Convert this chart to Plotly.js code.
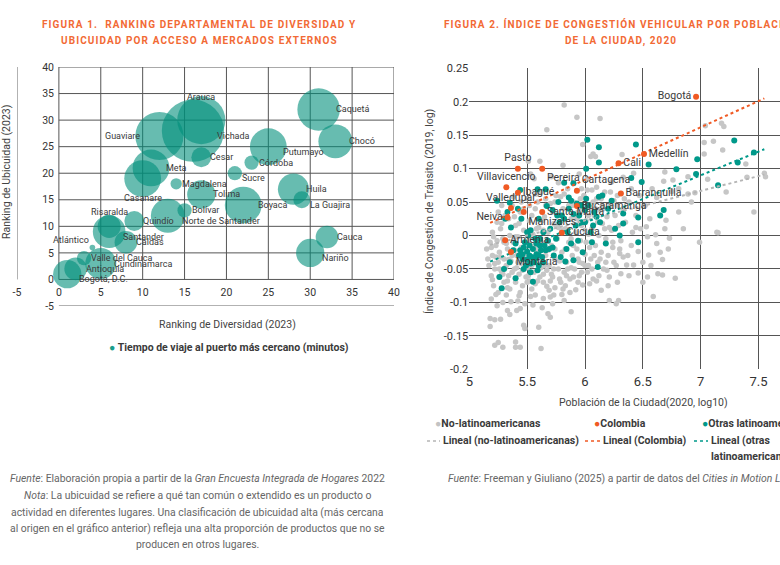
<!DOCTYPE html>
<html><head><meta charset="utf-8">
<script src="https://cdn.plot.ly/plotly-3.0.1.min.js"></script>
<style>
html,body{margin:0;padding:0;overflow:hidden;background:#fff;width:780px;height:565px;}
#chart{width:900px;height:565px;}
text.annotation-text[data-unformatted*="FIGURA"],
text.annotation-text[data-unformatted*="UBICUIDAD POR"],
text.annotation-text[data-unformatted*="DE LA CIUDAD"]{letter-spacing:1.1px;}
</style></head><body><div id="chart"></div>
<script>
// ---------- Figure 1 data ----------
const departments = ['Bogotá, D.C.','Antioquia','Valle del Cauca','Atlántico','Cundinamarca','Risaralda','Santander','Caldas','Quindío','Casanare','Meta','Guaviare','Norte de Santander','Magdalena','Bolívar','Vichada','Arauca','Cesar','Tolima','Sucre','Boyacá','Córdoba','Putumayo','Huila','La Guajira','Nariño','Caquetá','Cauca','Chocó'];
const diversityRank = [1,2,3,4,5,6,6,8,9,10,11,12,13,14,15,16,17,17,17,21,22,23,25,28,29,30,31,32,33];
const ubiquityRank  = [1,2,4,6,3,10,9,7,11,19,21,27,12,18,13,28,30,23,16,20,14,22,25,17,15,5,32,8,26];
const travelMinutes = [750,480,190,30,900,500,1000,480,370,1270,1270,2170,1080,120,190,3630,2170,370,750,190,1270,190,1270,910,270,750,1690,480,1080];
const rankTicks = [-5,0,5,10,15,20,25,30,35,40];
const rankTickText = ['-5','0','5','10','15','20','25','30','35','40'];

// ---------- Figure 2 data ----------
const nonLatamPop = [
5.82,5.93,5.67,5.98,6.13,7.18,7.20,7.04,7.03,7.11,
7.19,7.03,7.39,7.55,7.56,7.40,7.22,7.46,7.14,7.06,
6.89,6.95,6.89,6.81,6.69,6.76,6.68,6.92,6.81,6.85,
6.53,6.70,6.32,6.09,6.42,6.33,6.23,6.58,6.75,6.62,
6.99,7.15,6.73,6.69,6.65,6.67,6.55,6.46,6.63,6.67,
6.78,6.54,6.59,6.21,6.27,6.46,6.36,6.42,6.31,6.21,
6.19,6.25,6.30,6.40,6.54,6.61,5.18,5.18,5.22,5.27,
5.22,5.25,5.29,5.40,5.44,5.40,5.62,5.60,5.47,5.48,
5.33,5.41,5.44,5.70,5.68,5.88,5.82,5.73,5.70,5.64,
5.57,5.53,5.32,5.36,5.98,5.92,6.04,6.14,6.29,5.51,
5.61,5.81,6.05,6.07,5.53,5.71,5.56,5.77,5.95,6.02,
5.15,5.17,5.18,5.19,5.20,5.20,5.21,5.22,5.23,5.24,
5.25,5.25,5.26,5.27,5.28,5.29,5.30,5.30,5.31,5.32,
5.33,5.34,5.35,5.35,5.36,5.37,5.38,5.39,5.40,5.40,
5.41,5.42,5.43,5.44,5.45,5.45,5.46,5.47,5.48,5.49,
5.50,5.50,5.51,5.52,5.53,5.54,5.55,5.56,5.57,5.58,
5.59,5.60,5.61,5.62,5.63,5.64,5.65,5.66,5.67,5.68,
5.69,5.70,5.71,5.72,5.73,5.74,5.75,5.76,5.77,5.78,
5.79,5.80,5.81,5.82,5.83,5.84,5.85,5.86,5.87,5.88,
5.89,5.90,5.91,5.92,5.93,5.94,5.95,5.96,5.97,5.98,
5.99,6.00,6.01,6.02,6.03,6.04,6.05,6.06,6.07,6.08,
6.09,6.10,6.11,6.12,6.13,6.14,6.15,6.16,6.17,6.18,
6.19,6.20,6.22,6.23,6.24,6.26,6.27,6.28,6.29,6.31,
6.33,6.35,6.37,6.38,6.41,6.44,6.47,6.50,6.52,6.56,
5.21,5.23,5.26,5.28,5.31,5.33,5.36,5.39,5.42,5.44,
5.47,5.49,5.52,5.54,5.57,5.59,5.62,5.64,5.66,5.69,
5.72,5.74,5.77,5.79,5.83,5.86,5.88,5.91,5.94,5.97,
6.00,6.03,6.06,6.09,6.12,6.15,6.18,6.21,6.25,6.30,
5.16,5.19,5.22,5.24,5.27,5.29,5.32,5.34,5.37,5.39,
5.41,5.43,5.46,5.48,5.51,5.53,5.56,5.58,5.61,5.63,
5.65,5.68,5.70,5.73,5.75,5.78,5.80,5.83,5.85,5.88,
5.90,5.93,5.95,5.98,6.01,6.03,6.06,6.08,6.11,6.14,
5.20,5.23,5.26,5.30,5.33,5.37,5.40,5.43,5.47,5.50,
5.54,5.57,5.60,5.64,5.67,5.71,5.74,5.78,5.81,5.84,
5.87,5.90,5.94,5.97,6.00,6.04,6.07,6.10,6.13,6.17,
5.25,5.28,5.34,5.38,5.45,5.52,5.58,5.66,5.74,5.82,
5.89,5.96,6.02,6.10,6.16,6.22,6.28,6.34,6.40,6.48,
5.19,5.24,5.29,5.35,5.42,5.48,5.55,5.63,5.72,5.80,
6.20,6.24,6.28,6.33,6.38,6.44,6.50,6.57,6.62,6.72];
const nonLatamCong = [
0.195,0.177,0.158,0.136,0.175,0.168,0.163,0.164,0.139,0.141,
0.128,0.122,0.107,0.093,0.088,0.087,0.065,0.035,0.005,0.084,
0.088,0.064,0.062,0.070,0.095,0.083,0.081,0.050,0.035,0.010,
0.013,0.023,0.121,0.118,0.093,0.087,0.080,0.070,0.066,0.057,
-0.010,0.004,-0.004,0.010,-0.025,-0.036,-0.029,-0.024,-0.057,-0.059,
-0.064,-0.062,-0.091,-0.097,-0.102,-0.056,-0.044,-0.044,-0.057,-0.062,
-0.052,-0.040,-0.027,-0.015,-0.002,0.001,-0.124,-0.136,-0.126,-0.125,
-0.164,-0.160,-0.167,-0.159,-0.167,-0.167,-0.169,-0.137,-0.134,-0.139,
-0.112,-0.112,-0.109,-0.122,-0.117,-0.114,-0.097,-0.089,-0.092,-0.094,
-0.089,-0.091,-0.089,-0.099,-0.074,-0.081,-0.072,-0.082,-0.097,0.111,
0.111,0.105,0.118,0.122,0.092,0.088,0.085,0.079,0.092,0.085,
-0.020,-0.045,-0.010,-0.060,0.005,-0.030,-0.075,-0.050,-0.015,0.020,
-0.040,-0.085,-0.025,0.010,-0.055,-0.005,-0.035,-0.070,0.030,-0.045,
-0.020,-0.060,0.000,-0.080,-0.038,0.045,-0.010,-0.050,0.015,-0.070,
-0.030,-0.002,-0.058,0.035,-0.042,-0.018,-0.075,0.008,-0.028,-0.062,
0.055,-0.048,-0.008,0.022,-0.035,-0.080,0.002,-0.055,0.040,-0.022,
-0.068,0.012,-0.040,0.065,-0.012,-0.058,0.028,-0.030,-0.076,0.005,
-0.045,0.048,-0.015,-0.062,0.018,-0.035,0.060,-0.005,-0.050,0.030,
-0.070,-0.025,0.040,-0.055,0.010,-0.040,0.070,-0.010,-0.065,0.025,
-0.030,0.050,-0.050,0.005,-0.020,0.035,-0.060,-0.008,0.015,-0.042,
0.060,-0.028,0.022,-0.055,0.002,0.042,-0.035,0.010,-0.065,0.030,
-0.015,0.055,-0.040,0.000,0.038,-0.025,0.018,-0.050,0.065,-0.005,
0.028,-0.030,0.045,0.008,-0.018,0.030,-0.045,0.060,0.015,-0.008,
0.040,0.020,-0.030,0.050,0.005,0.030,0.060,-0.040,0.045,0.025,
-0.002,-0.032,-0.062,0.018,-0.048,-0.068,-0.025,0.028,-0.040,-0.085,
0.040,-0.010,-0.068,0.030,-0.015,0.050,-0.048,0.008,0.045,-0.082,
0.035,-0.020,0.012,0.058,-0.075,0.045,-0.048,0.030,-0.035,0.070,
0.008,-0.045,0.068,0.040,-0.060,0.045,-0.040,0.012,0.052,-0.020,
-0.035,-0.018,-0.042,-0.008,-0.032,-0.058,-0.012,-0.036,-0.055,-0.022,
-0.048,0.018,-0.052,-0.040,-0.060,-0.015,-0.038,0.010,-0.062,0.022,
-0.045,-0.022,-0.068,-0.050,0.015,-0.038,0.008,-0.020,-0.050,-0.005,
-0.062,0.025,-0.040,0.040,-0.010,0.030,-0.050,-0.030,0.020,0.055,
-0.066,-0.088,-0.050,-0.010,-0.078,-0.030,-0.002,-0.090,-0.050,-0.070,
-0.045,-0.072,-0.028,-0.070,-0.052,-0.058,-0.078,-0.065,-0.080,-0.060,
-0.085,-0.015,-0.070,-0.055,-0.045,-0.018,0.050,-0.068,-0.035,0.010,
0.035,0.045,0.025,0.058,0.050,0.045,0.062,0.055,0.050,0.062,
0.045,0.055,0.068,0.072,0.040,0.065,0.045,0.055,0.070,0.010,
-0.095,-0.105,-0.100,-0.118,-0.098,-0.102,-0.104,-0.108,-0.102,-0.088,
-0.075,-0.010,-0.070,-0.032,-0.060,0.012,-0.070,-0.045,-0.012,-0.020];

const otherLatamPop = [
6.12,6.44,6.12,6.55,7.29,7.46,6.97,7.32,6.96,6.79,
7.15,6.49,6.40,6.68,6.65,6.46,6.33,6.12,6.23,6.01,
6.02,5.82,5.90,5.44,5.59,5.66,5.24,5.35,5.86,6.01,
5.67,5.36,5.53,5.40,5.44,5.50,5.47,5.52,5.55,5.58,
5.61,5.63,5.66,5.55,5.40,5.28,5.83,5.90,6.11,5.98,
6.18,6.46,6.30,6.06,6.13,6.33,5.70,5.75,5.78,5.85,
5.88,5.92,5.95,6.00,6.05,5.60,5.64,5.72,5.80,5.45,
5.50,5.57,5.46,5.53,5.60,5.68,5.73,6.20,6.26,6.08,
5.94,5.97,5.77,5.42,5.31,
5.46,5.48,5.50,5.52,5.54,5.56,5.58,5.60,5.62,5.64,
5.49,5.53,5.57,5.61,5.65,5.69,5.43,5.47,5.51,5.59,
5.82,5.86,5.90,5.93,5.97,6.00,6.03,6.07,6.10,6.15,
5.35,5.38,5.30,5.26,5.33,5.72,5.76,5.79,5.84,5.88];
const otherLatamCong = [
0.132,0.136,0.109,0.106,0.142,0.124,0.114,0.109,0.092,0.099,
0.075,0.080,0.086,0.038,0.030,0.027,0.033,0.058,0.052,0.100,
0.143,0.079,0.078,0.068,0.069,0.069,0.052,0.049,0.057,0.055,
0.044,0.012,0.008,-0.012,-0.022,-0.024,-0.018,-0.030,-0.020,-0.028,
-0.015,-0.032,-0.022,-0.069,-0.064,-0.079,-0.039,-0.037,-0.047,-0.025,
-0.012,-0.010,0.000,-0.010,0.020,0.018,0.010,-0.005,0.020,0.005,
-0.012,0.015,0.030,0.020,0.005,0.025,0.005,0.038,0.030,0.025,
0.005,-0.005,-0.035,-0.042,-0.045,-0.008,-0.030,0.040,0.010,0.035,
-0.008,0.045,0.050,0.040,0.025,
-0.028,-0.010,-0.036,-0.015,-0.032,-0.040,-0.012,-0.030,-0.022,-0.040,
-0.045,-0.055,-0.035,-0.005,-0.015,-0.020,-0.030,-0.050,0.000,-0.052,
0.025,0.040,0.032,0.048,0.020,0.038,0.045,0.015,0.028,0.060,
-0.040,-0.022,-0.050,-0.062,0.035,-0.018,0.030,-0.032,-0.020,0.052];

const colombianCities = ['Bogotá','Medellín','Cali','Barranquilla','Cartagena','Bucaramanga','Cúcuta','Pereira','Pasto','Villavicencio','Ibagué','Valledupar','Neiva','Manizales','Santa Marta','Armenia','Montería'];
const colombiaPop  = [6.96,6.51,6.29,6.31,5.93,5.93,5.80,5.63,5.42,5.32,5.42,5.36,5.33,5.47,5.63,5.31,5.36];
const colombiaCong = [0.2075,0.122,0.108,0.063,0.067,0.044,0.004,0.100,0.100,0.072,0.064,0.041,0.027,0.035,0.035,-0.007,-0.0245];

const trendPop = [5.18, 7.55];
const trendNonLatam = [-0.014, 0.091];
const trendColombia = [0.019, 0.205];
const trendOtherLatam = [-0.039, 0.129];

const popTicks = [5,5.5,6,6.5,7,7.5,8];
const popTickText = ['5','5.5','6','6.5','7','7.5','8'];
const congTicks = [-0.2,-0.15,-0.1,-0.05,0,0.05,0.1,0.15,0.2,0.25];
const congTickText = ['-0.2','-0.15','-0.1','-0.05','0','0.05','0.1','0.15','0.2','0.25'];

// ---------- styling ----------
const W = 900, H = 565;
const fx = p => p / W;
const fy = p => 1 - p / H;
const FONT = "Roboto, 'Open Sans', sans-serif";
const ORANGE = '#f05a24', TEAL = '#00998a', GRAY = '#c6c6c6', TEXT = '#3a3a3a', TITLE = '#f26a35';
const SIZEREF = 1.875;
const deptLabelPos = ['bottom right','middle right','middle right','top left','middle right','top center','bottom right','middle right','middle right','bottom center','middle right','middle left','bottom right','middle right','middle right','bottom right','top center','middle right','middle right','bottom right','middle right','middle right','bottom right','middle right','bottom right','bottom right','middle right','middle right','middle right'];
const cityLabelPos = ['middle left','middle right','middle right','middle right','top right','middle right','middle right','bottom right','top center','top center','middle right','top center','middle left','bottom right','middle right','middle right','bottom right'];

const traces = [
  {type:'scatter', mode:'markers', x:diversityRank, y:ubiquityRank, text:departments,
   marker:{size:travelMinutes, sizemode:'area', sizeref:SIZEREF, color:'rgba(0,142,122,0.85)', line:{width:0}},
   name:'Tiempo de viaje al puerto más cercano (minutos)', showlegend:false, xaxis:'x', yaxis:'y'},
  {type:'scatter', mode:'markers', x:nonLatamPop, y:nonLatamCong, marker:{size:5.5, color:GRAY},
   name:'No-latinoamericanas', showlegend:false, xaxis:'x2', yaxis:'y2'},
  {type:'scatter', mode:'markers', x:otherLatamPop, y:otherLatamCong, marker:{size:6, color:TEAL},
   name:'Otras latinoamericanas', showlegend:false, xaxis:'x2', yaxis:'y2'},
  {type:'scatter', mode:'lines', x:trendPop, y:trendNonLatam, line:{color:'#b5b5b5', width:2, dash:'dot'},
   name:'Lineal (no-latinoamericanas)', showlegend:false, xaxis:'x2', yaxis:'y2'},
  {type:'scatter', mode:'lines', x:trendPop, y:trendOtherLatam, line:{color:TEAL, width:2, dash:'dot'},
   name:'Lineal (otras latinoamericanas)', showlegend:false, xaxis:'x2', yaxis:'y2'},
  {type:'scatter', mode:'lines', x:trendPop, y:trendColombia, line:{color:ORANGE, width:2, dash:'dot'},
   name:'Lineal (Colombia)', showlegend:false, xaxis:'x2', yaxis:'y2'},
  {type:'scatter', mode:'markers+text', x:colombiaPop, y:colombiaCong, text:colombianCities,
   textposition:cityLabelPos, textfont:{family:FONT, size:10.5, color:TEXT},
   marker:{size:6, color:ORANGE}, name:'Colombia', showlegend:false, cliponaxis:false, xaxis:'x2', yaxis:'y2'}
];

// gridlines for figure 1 (only inside 0..40)
const shapes = [];
rankTicks.filter(v => v >= 0).forEach(v => {
  shapes.push({type:'line', xref:'x', yref:'y', x0:v, x1:v, y0:0, y1:40, line:{color:'#555', width:1}, layer:'below'});
  shapes.push({type:'line', xref:'x', yref:'y', x0:0, x1:40, y0:v, y1:v, line:{color:'#555', width:1}, layer:'below'});
});
shapes.push({type:'line', xref:'x', yref:'y', x0:-5, x1:-5, y0:0, y1:40, line:{color:'#666', width:1}});
shapes.push({type:'line', xref:'x', yref:'y', x0:0, x1:40, y0:-5, y1:-5, line:{color:'#999', width:1.5}});
// legend dashes for figure 2
[[427,440,'#b5b5b5'],[585,600,ORANGE],[694,708,TEAL]].forEach(d => {
  shapes.push({type:'line', xref:'paper', yref:'paper', x0:fx(d[0]), x1:fx(d[1]), y0:fy(441), y1:fy(441), line:{color:d[2], width:1.5, dash:'dot'}});
});

function ann(text, x, y, opts) {
  return Object.assign({text:text, x:fx(x), y:fy(y), xref:'paper', yref:'paper', showarrow:false,
    xanchor:'center', yanchor:'middle', font:{family:FONT, size:10, color:TEXT}}, opts || {});
}
const titleFont = {family:FONT, size:10, color:TITLE, weight:700};
const noteFont = {family:FONT, size:10.4, color:'#666'};
const legFont = {family:FONT, size:10.5, color:TEXT, weight:700};

const annotations = [
  ann('FIGURA 1.  RANKING DEPARTAMENTAL DE DIVERSIDAD Y', 199, 24, {font:titleFont}),
  ann('UBICUIDAD POR ACCESO A MERCADOS EXTERNOS', 199, 41, {font:titleFont}),
  ann('FIGURA 2. ÍNDICE DE CONGESTIÓN VEHICULAR POR POBLACIÓN', 621, 24, {font:titleFont}),
  ann('DE LA CIUDAD, 2020', 621, 41, {font:titleFont}),
  ann('Ranking de Diversidad (2023)', 227, 324, {font:{family:FONT, size:10.5, color:'#444'}}),
  ann('Ranking de Ubicuidad (2023)', 7, 172, {textangle:-90, font:{family:FONT, size:10.5, color:'#444'}}),
  ann('<span style="color:#1a9e8c">●</span> Tiempo de viaje al puerto más cercano (minutos)', 229, 347, {font:legFont}),
  ann('Índice de Congestión de Tránsito (2019, log)', 429, 212, {textangle:-90, font:{family:FONT, size:10.5, color:'#444'}}),
  ann('Población de la Ciudad(2020, log10)', 643, 402, {font:{family:FONT, size:10.5, color:'#444'}}),
  ann('<span style="color:#c3c3c3">●</span>No-latinoamericanas', 433, 423, {xanchor:'left', font:legFont}),
  ann('<span style="color:'+ORANGE+'">●</span>Colombia', 592, 423, {xanchor:'left', font:legFont}),
  ann('<span style="color:'+TEAL+'">●</span>Otras latinoamericanas', 700, 423, {xanchor:'left', font:legFont}),
  ann('Lineal (no-latinoamericanas)', 441, 441, {xanchor:'left', font:legFont}),
  ann('Lineal (Colombia)', 601, 441, {xanchor:'left', font:legFont}),
  ann('Lineal (otras', 709, 441, {xanchor:'left', font:legFont}),
  ann('latinoamericanas)', 709, 457, {xanchor:'left', font:legFont}),
  ann('<i>Fuente</i>: Elaboración propia a partir de la <i>Gran Encuesta Integrada de Hogares</i> 2022', 197, 478, {font:noteFont}),
  ann('<i>Nota</i>: La ubicuidad se refiere a qué tan común o extendido es un producto o', 197, 495, {font:noteFont}),
  ann('actividad en diferentes lugares. Una clasificación de ubicuidad alta (más cercana', 197, 512, {font:noteFont}),
  ann('al origen en el gráfico anterior) refleja una alta proporción de productos que no se', 197, 528, {font:noteFont}),
  ann('producen en otros lugares.', 197, 544, {font:noteFont}),
  ann('<i>Fuente</i>: Freeman y Giuliano (2025) a partir de datos del <i>Cities in Motion Lab</i>', 446, 478, {xanchor:'left', font:noteFont})
];

// bubble labels, placed next to each bubble using its drawn radius
departments.forEach((name, i) => {
  const r = Math.sqrt(travelMinutes[i] / SIZEREF) / 2;
  const parts = deptLabelPos[i].split(' ');
  const vp = parts[0], hp = parts[1];
  const a = {x: diversityRank[i], y: ubiquityRank[i], xref:'x', yref:'y', text:name, showarrow:false,
    font:{family:FONT, size:9, color:TEXT}, borderpad:0, xanchor:'center', yanchor:'middle', xshift:0, yshift:0};
  if (hp === 'right') { a.xanchor = 'left'; a.xshift = r + 1; }
  if (hp === 'left') { a.xanchor = 'right'; a.xshift = -(r + 1); }
  if (vp === 'top') { a.yanchor = 'bottom'; a.yshift = r; }
  if (vp === 'bottom') { a.yanchor = hp === 'center' ? 'top' : 'middle'; a.yshift = hp === 'center' ? -r : -5; }
  if (vp === 'top' && hp === 'left') { a.xshift = -(r * 0.55 + 1); a.yshift = r * 0.55; }
  annotations.push(a);
});

const layout = {
  width:W, height:H, margin:{l:0,r:0,t:0,b:0}, paper_bgcolor:'#fff', plot_bgcolor:'rgba(0,0,0,0)',
  font:{family:FONT, color:TEXT}, hovermode:false, showlegend:false,
  xaxis:{domain:[fx(17), fx(394)], range:[-5,40], tickvals:rankTicks, ticktext:rankTickText, showgrid:false,
    zeroline:false, showline:false, ticks:'', anchor:'free', position:fy(284), tickfont:{size:10.5, color:'#333'}},
  yaxis:{domain:[fy(306), fy(67)], range:[-5,40], tickvals:rankTicks, ticktext:rankTickText, showgrid:false,
    zeroline:false, showline:false, ticks:'', anchor:'free', position:fx(54), tickfont:{size:10.5, color:'#333'}},
  xaxis2:{domain:[fx(469.3), fx(816.4)], range:[5,8], tickvals:popTicks, ticktext:popTickText, showgrid:true,
    gridcolor:'#555', gridwidth:1, zeroline:false, showline:false, ticks:'', ticklabelstandoff:3, anchor:'y2', tickfont:{size:13, color:'#333'}},
  yaxis2:{domain:[fy(369.3), fy(68.3)], range:[-0.2,0.25], tickvals:congTicks, ticktext:congTickText, showgrid:true,
    gridcolor:'#555', gridwidth:1, zeroline:false, showline:false, ticks:'', anchor:'x2', tickfont:{size:11, color:'#333'}},
  shapes:shapes, annotations:annotations
};

Plotly.newPlot('chart', traces, layout, {displayModeBar:false, staticPlot:true});
</script></body></html>
